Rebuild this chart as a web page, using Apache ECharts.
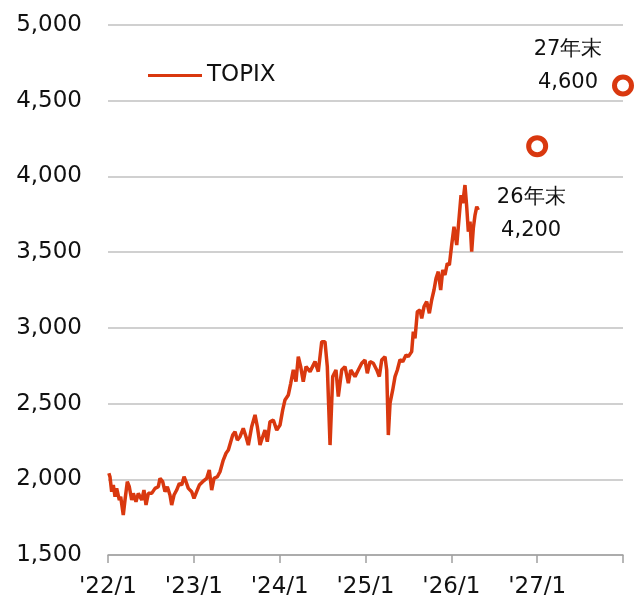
<!DOCTYPE html>
<html>
<head>
<meta charset="utf-8">
<script src="https://cdn.jsdelivr.net/npm/echarts@6/dist/echarts.min.js"></script>
<style>html,body{margin:0;padding:0;background:#fff}#c{width:634px;height:601px}</style>
</head>
<body>
<div id="c"></div>
<script>
// Time in decimal years
const topixTime = [
2022.010,2022.023,2022.043,2022.062,2022.082,2022.101,2022.132,2022.148,2022.178,2022.198,
2022.225,2022.248,2022.276,2022.295,2022.326,2022.353,2022.393,2022.419,2022.443,2022.470,
2022.509,2022.548,2022.586,2022.606,2022.637,2022.664,2022.691,2022.722,2022.742,2022.769,
2022.800,2022.831,2022.859,2022.886,2022.909,2022.936,2022.975,2023.002,2023.033,2023.064,
2023.103,2023.150,2023.180,2023.208,2023.235,2023.274,2023.305,2023.343,2023.375,2023.402,
2023.430,2023.453,2023.480,2023.507,2023.538,2023.576,2023.608,2023.635,2023.674,2023.713,
2023.740,2023.771,2023.802,2023.829,2023.856,2023.887,2023.926,2023.966,2024.004,2024.035,
2024.062,2024.101,2024.129,2024.159,2024.190,2024.217,2024.245,2024.275,2024.307,2024.354,
2024.412,2024.450,2024.490,2024.528,2024.555,2024.587,2024.618,2024.656,2024.683,2024.723,
2024.761,2024.800,2024.828,2024.878,2024.916,2024.956,2024.994,2025.021,2025.053,2025.091,
2025.131,2025.161,2025.189,2025.227,2025.247,2025.266,2025.286,2025.317,2025.344,2025.371,
2025.402,2025.434,2025.472,2025.499,2025.538,2025.557,2025.577,2025.604,2025.635,2025.655,
2025.682,2025.713,2025.744,2025.771,2025.798,2025.822,2025.848,2025.876,2025.900,2025.926,
2025.953,2025.977,2026.004,2026.031,2026.063,2026.093,2026.113,2026.133,2026.159,2026.179,
2026.198,2026.218,2026.237,2026.256,2026.276,2026.296,2026.314
];
const topixValue = [
2040,2017,1918,1962,1885,1940,1863,1885,1764,1863,
1984,1951,1863,1907,1852,1907,1863,1929,1830,1907,
1907,1940,1951,2006,1984,1918,1951,1896,1830,1896,
1929,1973,1962,2017,1984,1940,1918,1874,1918,1962,
1984,2006,2061,1929,2006,2017,2050,2127,2172,2193,
2248,2292,2314,2259,2281,2337,2281,2226,2347,2425,
2347,2226,2281,2325,2248,2380,2391,2325,2358,2457,
2524,2557,2634,2722,2645,2810,2744,2645,2744,2711,
2777,2711,2909,2909,2744,2226,2678,2722,2546,2722,
2744,2634,2722,2678,2722,2766,2788,2700,2777,2766,
2722,2678,2788,2810,2722,2292,2502,2590,2678,2722,
2790,2777,2821,2810,2843,2975,2931,3107,3118,3063,
3140,3173,3096,3184,3250,3327,3371,3250,3382,3349,
3426,3415,3547,3668,3547,3745,3877,3823,3943,3800,
3635,3701,3503,3657,3745,3800,3778
];
// Forecast targets
const targetTime = [2027, 2028];
const targetValue = [4200, 4600];
const targetName = ['26年末', '27年末'];
// Axis ticks
const yTicks = [1500, 2000, 2500, 3000, 3500, 4000, 4500, 5000];
const xTickYears = [2022, 2023, 2024, 2025, 2026, 2027, 2028];
const xTickLabels = ["'22/1", "'23/1", "'24/1", "'25/1", "'26/1", "'27/1", ""];

const RED = '#D9380F';
const FONT = 'DejaVu Sans';
const chart = echarts.init(document.getElementById('c'), null, {renderer: 'canvas'});
const fmt = v => v.toLocaleString('en-US');

chart.setOption({
  animation: false,
  backgroundColor: '#ffffff',
  grid: {left: 108, right: 11, top: 25, bottom: 46, containLabel: false},
  legend: {
    left: 148, top: 64, padding: 0,
    data: [{name: 'TOPIX', icon: 'rect'}],
    itemWidth: 54, itemHeight: 3, itemGap: 10,
    textStyle: {fontFamily: FONT, fontSize: 23, color: '#111'}
  },
  xAxis: {
    type: 'value',
    min: xTickYears[0], max: xTickYears[xTickYears.length - 1], interval: 1,
    axisLine: {show: true, lineStyle: {color: '#A0A0A0', width: 1.5}},
    axisTick: {show: true, length: 8, lineStyle: {color: '#A0A0A0', width: 1.5}},
    splitLine: {show: false},
    axisLabel: {
      margin: 21, fontFamily: FONT, fontSize: 23, color: '#111',
      formatter: v => xTickLabels[xTickYears.indexOf(Math.round(v))] || ''
    }
  },
  yAxis: {
    type: 'value',
    min: yTicks[0], max: yTicks[yTicks.length - 1], interval: 500,
    axisLine: {show: false},
    axisTick: {show: false},
    splitLine: {show: true, lineStyle: {color: '#D0D0D0', width: 1.8}},
    axisLabel: {margin: 26, fontFamily: FONT, fontSize: 23, color: '#111', formatter: fmt}
  },
  series: [
    {
      name: 'TOPIX', type: 'line',
      data: topixTime.map((t, i) => [t, topixValue[i]]),
      showSymbol: false, symbol: 'none',
      lineStyle: {color: RED, width: 3.5},
      itemStyle: {color: RED}
    },
    {
      name: '目標', type: 'scatter', clip: false,
      symbol: 'circle', symbolSize: 17,
      itemStyle: {color: '#ffffff', borderColor: RED, borderWidth: 5, opacity: 1},
      data: targetTime.map((t, i) => ({
        value: [t, targetValue[i]],
        label: {
          show: true, position: 'inside',
          offset: i === 0 ? [-6, 68] : [-55, -20],
          formatter: targetName[i] + '\n' + fmt(targetValue[i]),
          fontFamily: FONT, fontSize: 21, lineHeight: 33, color: '#111', align: 'center'
        }
      }))
    }
  ]
});
</script>
</body>
</html>
